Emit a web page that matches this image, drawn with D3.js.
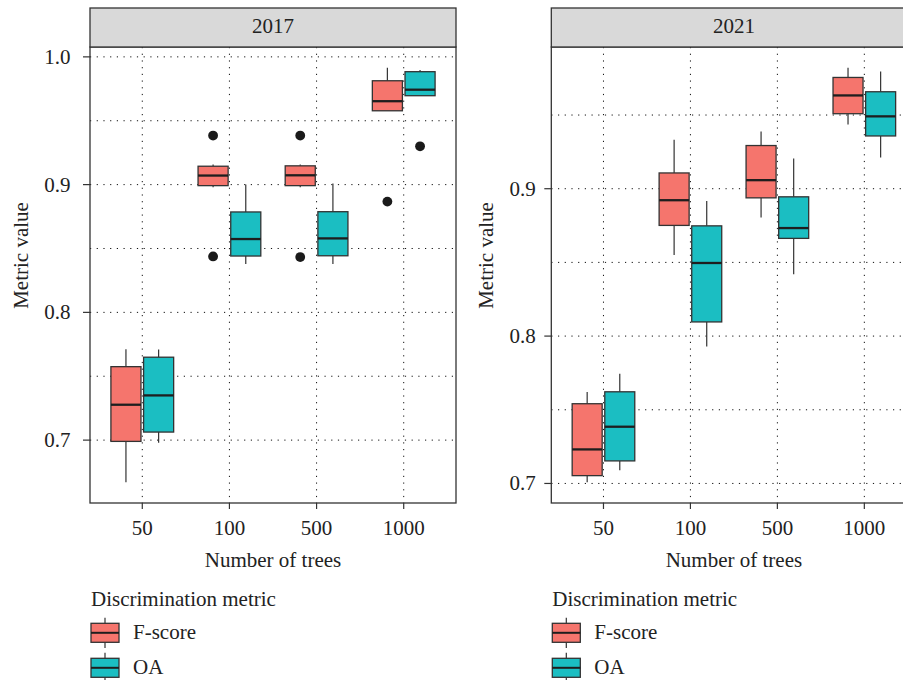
<!DOCTYPE html>
<html>
<head>
<meta charset="utf-8">
<script src="https://cdn.jsdelivr.net/npm/d3@7/dist/d3.min.js"></script>
<style>
  html, body { margin: 0; padding: 0; background: #fff; }
  svg { display: block; }
  text { font-family: "Liberation Serif", "DejaVu Serif", serif; fill: #222; }
</style>
</head>
<body>
<script>
// Categories
const years = ["2017", "2021"];
const treeCounts = ["50", "100", "500", "1000"];
const metrics = ["F-score", "OA"];

// Box statistics per tree count: [lower whisker, Q1, median, Q3, upper whisker]
const fscore2017 = [
  [0.667, 0.699, 0.7277, 0.7575, 0.7711],
  [0.898, 0.8992, 0.9071, 0.9144, 0.9157],
  [0.898, 0.8992, 0.9073, 0.9147, 0.9157],
  [0.9578, 0.9578, 0.9653, 0.9813, 0.9915]
];
const oa2017 = [
  [0.698, 0.7063, 0.735, 0.7649, 0.771],
  [0.8378, 0.8441, 0.8574, 0.8786, 0.9],
  [0.8378, 0.8443, 0.8579, 0.8788, 0.9008],
  [0.9696, 0.9696, 0.9743, 0.9884, 0.9897]
];
const fscore2017Outliers = [[], [0.9384, 0.8438], [0.9384, 0.8433], [0.8867]];
const oa2017Outliers = [[], [], [], [0.930]];

const fscore2021 = [
  [0.7008, 0.7053, 0.7231, 0.7541, 0.7620],
  [0.8550, 0.8751, 0.8922, 0.9107, 0.9333],
  [0.8805, 0.8938, 0.9058, 0.9293, 0.9388],
  [0.9435, 0.9509, 0.9633, 0.9755, 0.9821]
];
const oa2021 = [
  [0.7089, 0.7153, 0.7385, 0.7622, 0.7744],
  [0.7929, 0.8096, 0.8496, 0.8748, 0.8916],
  [0.8419, 0.8663, 0.8733, 0.8945, 0.9205],
  [0.9211, 0.9358, 0.9491, 0.9658, 0.9796]
];
const fscore2021Outliers = [[], [], [], []];
const oa2021Outliers = [[], [], [], []];

// Axis tick values
const yTicks2017 = [0.7, 0.8, 0.9, 1.0];
const yTicks2021 = [0.7, 0.8, 0.9];
const yMinorTicks = [0.75, 0.85, 0.95];

const metricColors = ["#F5756D", "#1BBEC2"];
const seriesByYear = {
  "2017": { stats: [fscore2017, oa2017], outliers: [fscore2017Outliers, oa2017Outliers], ticks: yTicks2017 },
  "2021": { stats: [fscore2021, oa2021], outliers: [fscore2021Outliers, oa2021Outliers], ticks: yTicks2021 }
};

const W = 903, H = 680;
const svg = d3.select("body").append("svg").attr("width", W).attr("height", H);

const stripTop = 8, panelTop = 47, panelBottom = 503;
const panels = [
  { year: "2017", left: 90, right: 456, labelGap: 19.5, titleX: 21 },
  { year: "2021", left: 551.3, right: 916.5, labelGap: 15.5, titleX: 486 }
];
const fs = 21;
const lineCol = "#333";

panels.forEach(p => {
  const d = seriesByYear[p.year];
  const g = svg.append("g");

  const x = d3.scalePoint().domain(treeCounts).range([p.left, p.right]).padding(0.6);
  const step = x.step();

  const allVals = d.stats.flatMap(s => s.flat()).concat(d.outliers.flatMap(o => o.flat()));
  const [lo, hi] = d3.extent(allVals);
  const pad = (hi - lo) * 0.05;
  const y = d3.scaleLinear().domain([lo - pad, hi + pad]).range([panelBottom, panelTop]);

  // panel background
  g.append("rect").attr("x", p.left).attr("y", panelTop)
    .attr("width", p.right - p.left).attr("height", panelBottom - panelTop).attr("fill", "#fff");

  // dotted grid
  const dots = "1.2,5.5";
  g.selectAll(".hgrid").data(d.ticks.concat(yMinorTicks)).join("line")
    .attr("x1", p.left).attr("x2", p.right)
    .attr("y1", v => y(v)).attr("y2", v => y(v))
    .attr("stroke", "#111").attr("stroke-width", 1).attr("stroke-dasharray", dots);
  g.selectAll(".vgrid").data(treeCounts).join("line")
    .attr("x1", c => x(c)).attr("x2", c => x(c))
    .attr("y1", panelTop).attr("y2", panelBottom)
    .attr("stroke", "#111").attr("stroke-width", 1).attr("stroke-dasharray", dots);

  // boxes
  const dodge = step * 0.1875;
  const bw = step * 0.345;
  metrics.forEach((m, mi) => {
    const off = mi === 0 ? -dodge : dodge;
    d.stats[mi].forEach((s, ci) => {
      const cx = x(treeCounts[ci]) + off;
      const [wl, q1, med, q3, wh] = s;
      g.append("line").attr("x1", cx).attr("x2", cx).attr("y1", y(q3)).attr("y2", y(wh))
        .attr("stroke", lineCol).attr("stroke-width", 1.2);
      g.append("line").attr("x1", cx).attr("x2", cx).attr("y1", y(q1)).attr("y2", y(wl))
        .attr("stroke", lineCol).attr("stroke-width", 1.2);
      g.append("rect").attr("x", cx - bw / 2).attr("y", y(q3))
        .attr("width", bw).attr("height", y(q1) - y(q3))
        .attr("fill", metricColors[mi]).attr("stroke", lineCol).attr("stroke-width", 1.3);
      g.append("line").attr("x1", cx - bw / 2).attr("x2", cx + bw / 2)
        .attr("y1", y(med)).attr("y2", y(med))
        .attr("stroke", "#1e1e1e").attr("stroke-width", 2.3);
      d.outliers[mi][ci].forEach(v => {
        g.append("circle").attr("cx", cx).attr("cy", y(v)).attr("r", 4.9).attr("fill", "#1a1a1a");
      });
    });
  });

  // panel border
  g.append("rect").attr("x", p.left).attr("y", panelTop)
    .attr("width", p.right - p.left).attr("height", panelBottom - panelTop)
    .attr("fill", "none").attr("stroke", lineCol).attr("stroke-width", 1.3);

  // strip
  g.append("rect").attr("x", p.left).attr("y", stripTop)
    .attr("width", p.right - p.left).attr("height", panelTop - stripTop)
    .attr("fill", "#D9D9D9").attr("stroke", lineCol).attr("stroke-width", 1.3);
  g.append("text").attr("x", (p.left + p.right) / 2).attr("y", 33.3)
    .attr("text-anchor", "middle").attr("font-size", fs).text(p.year);

  // y axis ticks and labels
  const fmt = d3.format(".1f");
  d.ticks.forEach(v => {
    g.append("line").attr("x1", p.left - 7).attr("x2", p.left).attr("y1", y(v)).attr("y2", y(v))
      .attr("stroke", lineCol).attr("stroke-width", 1.2);
    g.append("text").attr("x", p.left - p.labelGap).attr("y", y(v) + 7)
      .attr("text-anchor", "end").attr("font-size", fs).text(fmt(v));
  });

  // x axis ticks and labels
  treeCounts.forEach(c => {
    g.append("line").attr("x1", x(c)).attr("x2", x(c)).attr("y1", panelBottom).attr("y2", panelBottom + 6)
      .attr("stroke", lineCol).attr("stroke-width", 1.2);
    g.append("text").attr("x", x(c)).attr("y", 535)
      .attr("text-anchor", "middle").attr("font-size", fs).text(c);
  });

  // axis titles
  g.append("text").attr("x", (p.left + p.right) / 2).attr("y", 567)
    .attr("text-anchor", "middle").attr("font-size", fs).text("Number of trees");
  g.append("text").attr("transform", `translate(${p.titleX + 7},${(stripTop + panelBottom) / 2}) rotate(-90)`)
    .attr("text-anchor", "middle").attr("font-size", fs).text("Metric value");

  // legend
  const lx = p.left + 1;
  g.append("text").attr("x", lx).attr("y", 606).attr("font-size", fs).text("Discrimination metric");
  metrics.forEach((m, mi) => {
    const boxTop = 623.3 + mi * 35;
    const kw = 28, kh = 19, kcx = lx + kw / 2;
    g.append("line").attr("x1", kcx).attr("x2", kcx).attr("y1", boxTop - 5.6).attr("y2", boxTop + kh + 5.6)
      .attr("stroke", lineCol).attr("stroke-width", 1.2);
    g.append("rect").attr("x", lx).attr("y", boxTop).attr("width", kw).attr("height", kh)
      .attr("fill", metricColors[mi]).attr("stroke", lineCol).attr("stroke-width", 1.3);
    g.append("line").attr("x1", lx).attr("x2", lx + kw).attr("y1", boxTop + kh / 2).attr("y2", boxTop + kh / 2)
      .attr("stroke", "#1e1e1e").attr("stroke-width", 2);
    g.append("text").attr("x", lx + 42).attr("y", boxTop + kh / 2 + 6.5)
      .attr("font-size", fs).text(m);
  });
});
</script>
</body>
</html>
